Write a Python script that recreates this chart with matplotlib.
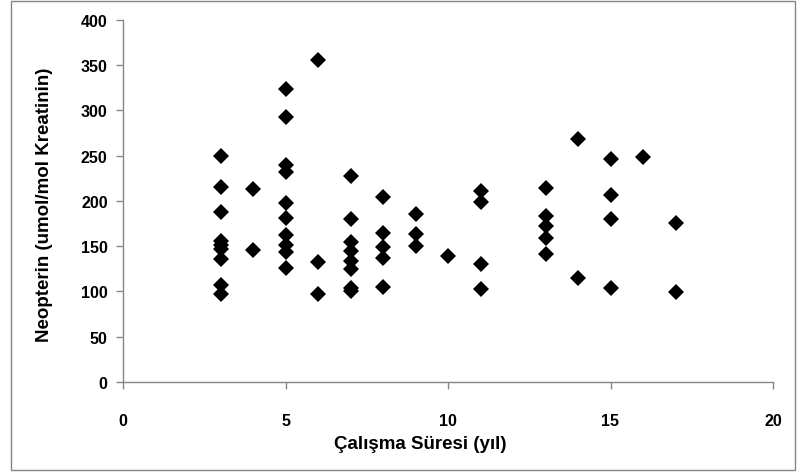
import matplotlib.pyplot as plt
from matplotlib.patches import Rectangle

# working time (years) and urinary neopterin values, one entry per subject
years = [3, 3, 3, 3, 3, 3, 3, 3, 3,
         4, 4,
         5, 5, 5, 5, 5, 5, 5, 5, 5, 5,
         6, 6, 6,
         7, 7, 7, 7, 7, 7, 7, 7,
         8, 8, 8, 8, 8,
         9, 9, 9,
         10,
         11, 11, 11, 11,
         13, 13, 13, 13, 13,
         14, 14,
         15, 15, 15, 15,
         16,
         17, 17]
neopterin = [250, 215, 188, 156, 151, 147, 136, 107, 97,
             213, 146,
             323, 293, 240, 232, 198, 181, 162, 151, 144, 126,
             355, 133, 97,
             227, 180, 155, 145, 134, 125, 104, 100,
             204, 165, 149, 137, 105,
             186, 163, 150,
             139,
             211, 199, 130, 103,
             214, 183, 172, 159, 141,
             268, 115,
             246, 206, 180, 104,
             248,
             176, 99]

x_ticks = [0, 5, 10, 15, 20]
y_ticks = [0, 50, 100, 150, 200, 250, 300, 350, 400]

plt.rcParams['font.family'] = ['Liberation Sans', 'DejaVu Sans']
plt.rcParams['font.weight'] = 'bold'
plt.rcParams['axes.labelweight'] = 'bold'

fig = plt.figure(figsize=(8.02, 4.77), dpi=100)
ax = fig.add_axes([123/802, 1 - 383/477, 650/802, 362.3/477])

ax.plot(years, neopterin, linestyle='none', marker='D', markersize=8,
        color='black', markeredgewidth=0)

ax.set_xlim(0, 20)
ax.set_ylim(0, 400)
ax.set_xticks(x_ticks)
ax.set_yticks(y_ticks)

grey = '#868686'
for side in ['top', 'right']:
    ax.spines[side].set_visible(False)
for side in ['left', 'bottom']:
    ax.spines[side].set_color(grey)
    ax.spines[side].set_linewidth(1.0)
ax.tick_params(axis='both', direction='out', length=5, width=1.0, color=grey,
               labelsize=11.5, pad=6)
ax.tick_params(axis='x', pad=17)
for lbl in ax.get_xticklabels() + ax.get_yticklabels():
    lbl.set_fontweight('bold')

ax.set_xlabel('Çalışma Süresi (yıl)', fontsize=13.5, fontweight='bold')
ax.set_ylabel('Neopterin (umol/mol Kreatinin)', fontsize=13.5, fontweight='bold')
ax.xaxis.set_label_coords(0.457, -0.147)
ax.yaxis.set_label_coords(-0.107, 0.491)

# outer chart frame
fig.patches.append(Rectangle((11/802, 1 - 471/477), 784/802, 469/477,
                             transform=fig.transFigure, fill=False,
                             edgecolor=grey, linewidth=1.0))

fig.savefig('out.png', dpi=100)
